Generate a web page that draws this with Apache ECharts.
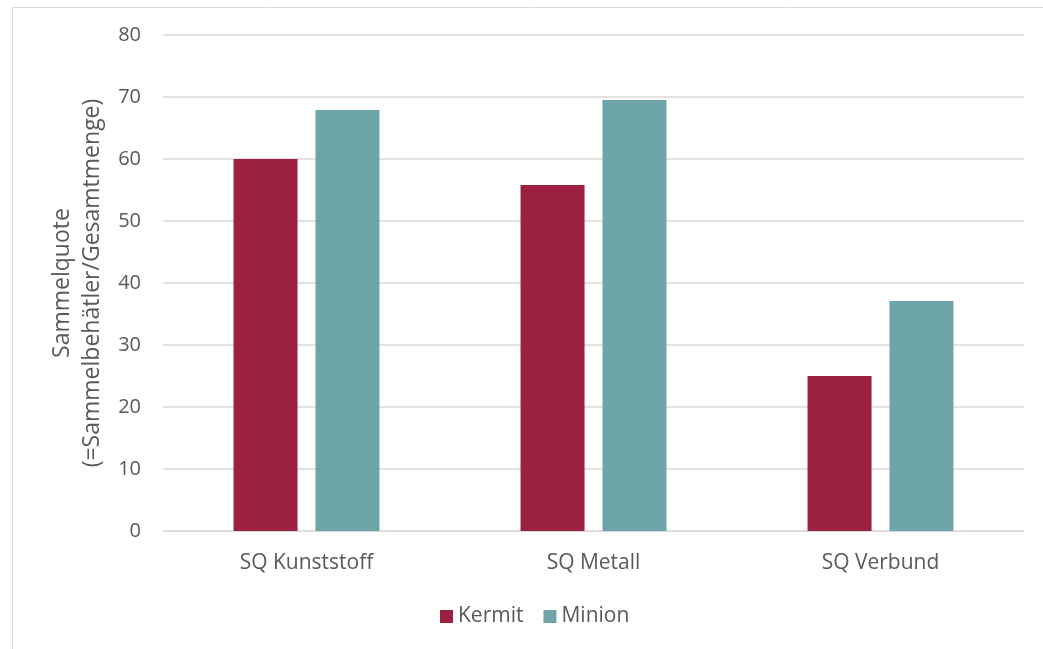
<!DOCTYPE html>
<html>
<head>
<meta charset="utf-8">
<script src="https://cdn.jsdelivr.net/npm/echarts@6/dist/echarts.min.js"></script>
<style>html,body{margin:0;padding:0;background:#fff}#c{width:1043px;height:649px}</style>
</head>
<body>
<div id="c"></div>
<script>
var categories = ["SQ Kunststoff", "SQ Metall", "SQ Verbund"];
var seriesNames = ["Kermit", "Minion"];
var kermit = [60, 55.8, 25];
var minion = [67.9, 69.5, 37.1];
var yTicks = { min: 0, max: 80, interval: 10 };

var font = "'Open Sans', 'Noto Sans', sans-serif";
var chart = echarts.init(document.getElementById('c'), null, { renderer: 'canvas' });
chart.setOption({
  animation: false,
  backgroundColor: '#fff',
  graphic: [{
    type: 'rect', left: 10, top: 5, z: -10,
    shape: { width: 1100, height: 700 },
    style: { fill: 'none', stroke: '#d9d9d9', lineWidth: 1 }
  }],
  grid: { left: 163, right: 19, top: 35, bottom: 118, containLabel: false },
  legend: {
    data: seriesNames, top: 601, left: 435,
    itemWidth: 13, itemHeight: 13, itemGap: 20, icon: 'rect',
    textStyle: { color: '#595959', fontSize: 21, fontFamily: font }
  },
  xAxis: {
    type: 'category', data: categories,
    axisLine: { show: true, lineStyle: { color: '#d9d9d9', width: 1 } },
    axisTick: { show: false },
    axisLabel: { color: '#595959', fontSize: 21, fontFamily: font, margin: 22 }
  },
  yAxis: {
    type: 'value', min: yTicks.min, max: yTicks.max, interval: yTicks.interval,
    name: 'Sammelquote\n(=Sammelbehätler/Gesamtmenge)',
    nameLocation: 'middle', nameRotate: 90, nameGap: 49,
    nameTextStyle: { color: '#595959', fontSize: 23, fontFamily: font, lineHeight: 30 },
    axisLine: { show: false }, axisTick: { show: false },
    axisLabel: { color: '#595959', fontSize: 20, fontFamily: font, margin: 22 },
    splitLine: { lineStyle: { color: '#d9d9d9', width: 1.5 } }
  },
  series: [
    { name: seriesNames[0], type: 'bar', data: kermit, barWidth: 64, barGap: '28%',
      itemStyle: { color: '#9c2042' } },
    { name: seriesNames[1], type: 'bar', data: minion, barWidth: 64, barGap: '28%',
      itemStyle: { color: '#6ea5a8' } }
  ]
});
</script>
</body>
</html>
